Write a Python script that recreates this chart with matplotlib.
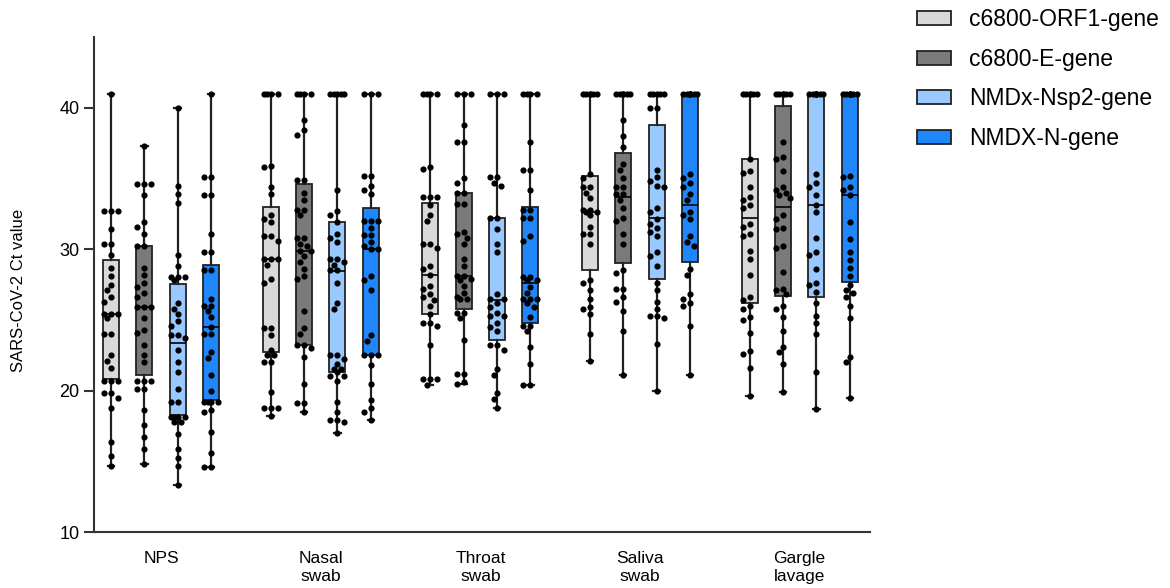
import numpy as np
import matplotlib
matplotlib.use('Agg')
import matplotlib.pyplot as plt
from matplotlib.patches import Patch

plt.rcParams['font.family'] = ['Liberation Sans', 'DejaVu Sans']

# categories
sites = ['NPS', 'Nasal\nswab', 'Throat\nswab', 'Saliva\nswab', 'Gargle\nlavage']
assays = ['c6800-ORF1-gene', 'c6800-E-gene', 'NMDx-Nsp2-gene', 'NMDX-N-gene']
colors = ['#d9d9d9', '#7a7a7a', '#99c9ff', '#1f87fb']

# box statistics (rows = site, cols = assay)
q1 = [[20.8, 21.1, 18.3, 19.3],
      [22.75, 23.2, 21.3, 22.5],
      [25.4, 25.8, 23.6, 24.8],
      [28.5, 29.0, 27.9, 29.1],
      [26.2, 26.7, 26.65, 27.7]]
med = [[25.4, 25.9, 23.4, 24.5],
       [29.3, 29.9, 28.45, 30.0],
       [28.2, 28.1, 26.4, 27.6],
       [32.6, 33.7, 32.2, 33.15],
       [32.2, 33.0, 33.1, 33.8]]
q3 = [[29.2, 30.2, 27.55, 28.9],
      [33.0, 34.6, 31.9, 32.9],
      [33.3, 34.0, 32.2, 33.0],
      [35.15, 36.8, 38.8, 41.0],
      [36.4, 40.1, 41.0, 41.0]]

# individual Ct values (one list per assay)
nps = [
    [41.0, 32.7, 32.7, 32.7, 31.4, 30.4, 30.4, 29.6, 28.7, 28.1, 27.5, 27.1, 26.6, 26.3, 25.4, 25.4, 25.4, 25.1,
     24.0, 24.0, 22.5, 22.1, 21.6, 20.7, 20.7, 20.7, 19.8, 19.8, 19.5, 18.8, 16.4, 15.4, 14.7],
    [37.3, 34.6, 34.6, 34.6, 33.8, 31.9, 31.6, 31.1, 30.2, 30.2, 28.7, 28.2, 27.6, 27.3, 26.9, 26.6, 25.9, 25.9,
     25.9, 25.1, 24.3, 24.1, 23.2, 22.5, 22.0, 20.7, 20.7, 20.7, 20.1, 20.1, 18.6, 17.6, 16.7, 15.9, 14.8],
    [40.0, 34.5, 33.9, 33.3, 29.6, 28.8, 28.0, 28.0, 28.0, 27.8, 26.2, 25.8, 25.4, 24.9, 24.6, 23.9, 23.9, 23.7,
     22.9, 22.0, 21.3, 20.1, 19.2, 19.2, 18.1, 18.1, 18.1, 18.1, 17.8, 17.8, 16.9, 15.9, 15.2, 14.7, 13.3],
    [41.0, 35.1, 35.1, 33.8, 33.8, 31.1, 29.8, 29.8, 28.5, 28.5, 26.5, 26.0, 26.0, 25.6, 25.2, 24.5, 24.0, 24.0,
     22.7, 22.3, 21.1, 20.0, 19.2, 19.2, 19.2, 19.2, 18.6, 18.5, 17.1, 15.6, 14.6, 14.6],
]
nasal = [
    [41.0] * 4 + [35.9, 35.8, 34.4, 33.9, 32.4, 32.1, 31.9, 30.9, 30.9, 30.6, 29.3, 29.3, 29.3, 28.9, 27.9, 27.6,
                  24.4, 24.4, 23.9, 22.9, 22.5, 22.5, 22.0, 22.0, 19.9, 18.8, 18.8, 18.8, 18.2],
    [41.0] * 4 + [39.1, 38.4, 38.1, 34.9, 34.9, 34.0, 33.5, 32.8, 32.8, 32.4, 30.8, 30.8, 30.4, 30.2, 29.9, 29.9,
                  29.5, 29.1, 28.6, 28.1, 27.9, 25.6, 24.4, 24.0, 23.2, 23.2, 23.0, 22.4, 20.5, 19.1, 19.1, 18.5],
    [41.0] * 5 + [34.2, 32.7, 32.4, 31.9, 31.1, 30.8, 30.5, 29.3, 29.3, 29.1, 28.9, 28.5, 28.5, 27.6, 26.2, 25.8,
                  22.5, 22.5, 22.2, 21.9, 21.5, 21.5, 21.3, 21.0, 21.0, 20.7, 19.2, 18.5, 17.9, 17.9, 17.8, 17.0],
    [41.0] * 3 + [35.2, 35.2, 34.5, 34.2, 33.9, 32.0, 32.0, 32.0, 31.5, 31.0, 31.0, 30.5, 30.2, 30.0, 30.0, 28.1,
                  27.8, 27.1, 23.9, 23.5, 22.5, 22.5, 22.5, 21.8, 20.5, 19.3, 18.8, 18.5, 17.9],
]
throat = [
    [41.0] * 4 + [35.8, 35.7, 33.7, 33.7, 33.7, 33.1, 32.4, 32.0, 30.4, 30.4, 30.1, 28.8, 28.6, 28.2, 27.4, 27.2,
                  26.8, 26.6, 26.4, 26.0, 25.4, 24.8, 24.8, 24.6, 23.2, 20.8, 20.8, 20.8, 20.4],
    [41.0] * 3 + [38.8, 37.6, 37.6, 35.0, 34.7, 34.0, 34.0, 33.2, 33.2, 31.2, 31.1, 30.8, 30.4, 29.3, 28.8, 28.1,
                  28.1, 27.9, 27.8, 27.4, 26.9, 26.6, 26.5, 26.5, 25.5, 25.5, 25.1, 23.6, 21.2, 21.2, 20.6, 20.5],
    [41.0] * 3 + [35.1, 35.1, 34.7, 34.5, 32.2, 32.2, 31.4, 30.4, 29.8, 26.8, 26.5, 26.5, 26.2, 25.9, 25.5, 25.3,
                  25.3, 24.8, 24.5, 24.2, 23.2, 23.2, 22.9, 21.5, 21.1, 19.8, 19.4, 18.8],
    [41.0] * 4 + [37.6, 35.6, 35.6, 34.2, 32.8, 32.8, 32.2, 32.2, 30.9, 30.6, 28.0, 28.0, 27.8, 27.8, 27.3, 26.9,
                  26.5, 26.5, 26.5, 26.2, 25.9, 25.2, 24.6, 24.6, 24.2, 23.1, 21.9, 20.4, 20.4],
]
saliva = [
    [41.0] * 6 + [35.3, 35.0, 34.4, 34.4, 34.0, 33.6, 32.8, 32.8, 32.6, 32.6, 32.4, 31.6, 31.1, 31.1, 30.4, 27.8,
                  27.6, 27.1, 26.5, 25.9, 25.8, 25.4, 24.0, 22.1],
    [41.0] * 6 + [39.1, 38.0, 37.2, 36.0, 35.6, 35.0, 34.4, 34.4, 33.9, 33.9, 33.5, 32.9, 32.2, 32.0, 31.1, 30.4,
                  28.5, 28.3, 27.2, 27.2, 26.6, 26.3, 25.6, 24.2, 21.1],
    [41.0] * 5 + [40.0, 40.0, 35.6, 35.1, 34.8, 34.5, 34.4, 32.9, 32.6, 32.1, 31.8, 31.5, 31.2, 30.9, 29.8, 29.5,
                  28.8, 27.6, 27.1, 26.3, 25.8, 25.3, 25.3, 25.1, 23.3, 20.0],
    [41.0] * 8 + [35.3, 35.0, 34.7, 34.4, 33.9, 33.5, 32.6, 32.4, 32.1, 30.9, 30.5, 30.2, 28.6, 28.2, 26.8, 26.5,
                  26.2, 26.0, 24.6, 21.1],
]
gargle = [
    [41.0] * 6 + [36.4, 35.5, 35.4, 34.4, 33.7, 33.5, 33.1, 32.9, 31.8, 31.6, 31.1, 30.9, 29.9, 29.3, 28.2, 26.6,
                  26.4, 26.0, 25.8, 25.2, 25.0, 24.1, 22.8, 22.6, 21.6, 19.6],
    [41.0] * 6 + [37.6, 36.5, 36.4, 35.5, 34.4, 34.2, 34.0, 33.8, 33.6, 32.4, 32.1, 31.5, 31.4, 30.2, 30.1, 28.4,
                  27.2, 27.1, 26.8, 26.0, 25.8, 25.2, 24.2, 23.1, 22.7, 21.9, 19.9],
    [41.0] * 8 + [35.3, 34.7, 34.4, 33.8, 33.1, 32.6, 30.8, 29.8, 29.6, 28.6, 27.6, 27.5, 27.0, 26.2, 25.3, 24.8,
                  24.0, 21.3, 18.7],
    [41.0] * 8 + [35.2, 35.1, 34.4, 34.2, 33.8, 31.9, 30.7, 29.8, 29.2, 28.7, 28.1, 27.5, 27.1, 26.9, 26.6, 26.0,
                  25.1, 22.4, 22.0, 19.5],
]
points = [nps, nasal, throat, saliva, gargle]

fig = plt.figure(figsize=(11.7, 5.88), dpi=100)
ax = fig.add_axes([0.0803, 0.0952, 0.6632, 0.8418])
ax.set_xlim(-0.42, 4.44)
ax.set_ylim(10, 45)

step = 0.209   # distance between boxes inside a site
bw = 0.1
ink = '#222222'


def swarm(vals, xc):
    # spread equal / close values sideways (pixel space), like a scatter dot plot
    (x0, y0), (x1, y1) = ax.transData.transform([(0, 0), (1, 1)])
    sx, sy = x1 - x0, y1 - y0
    ys = np.asarray(vals) * sy
    cands = sorted(np.arange(-7, 7.01, 3.5), key=abs)
    d = 6.0
    px, py = [], []
    xs = np.zeros(len(vals))
    for i in np.argsort(-ys, kind='stable'):
        best, bestd = 0.0, -1
        for c in cands:
            dist = np.min(np.hypot(np.array(px) - c, np.array(py) - ys[i])) if px else np.inf
            if dist >= d:
                best = c
                break
            if dist > bestd:
                best, bestd = c, dist
        xs[i] = best
        px.append(best)
        py.append(ys[i])
    return xc + xs / sx


for j in range(len(assays)):
    pos = [i + (j - 1.5) * step for i in range(len(sites))]
    stats = []
    for i in range(len(sites)):
        v = points[i][j]
        stats.append(dict(q1=q1[i][j], med=med[i][j], q3=q3[i][j],
                          whislo=min(v), whishi=max(v), fliers=[]))
    ax.bxp(stats, positions=pos, widths=bw, patch_artist=True, showfliers=False,
           capwidths=0.04, manage_ticks=False,
           boxprops=dict(facecolor=colors[j], edgecolor=ink, linewidth=1.3),
           medianprops=dict(color='black', linewidth=1.2),
           whiskerprops=dict(color=ink, linewidth=1.6),
           capprops=dict(color=ink, linewidth=1.6), zorder=2)
    for i in range(len(sites)):
        v = points[i][j]
        ax.scatter(swarm(v, pos[i]), v, s=20, color='black', linewidths=0, zorder=3)

ax.set_xticks(range(len(sites)))
ax.set_xticklabels(sites, fontsize=12.5)
ax.tick_params(axis='x', length=0, pad=14)
ax.set_yticks([10, 20, 30, 40])
ax.tick_params(axis='y', labelsize=13, length=7, width=1.5, color='#333333')
ax.set_ylabel('SARS-CoV-2 Ct value', fontsize=12)
ax.yaxis.set_label_coords(-0.087, 0.489)
for s in ['top', 'right']:
    ax.spines[s].set_visible(False)
for s in ['left', 'bottom']:
    ax.spines[s].set_linewidth(1.5)
    ax.spines[s].set_color('#333333')

handles = [Patch(facecolor=c, edgecolor=ink, linewidth=1.3) for c in colors]
fig.legend(handles, assays, loc='upper left', bbox_to_anchor=(0.784, 0.986), frameon=False,
           fontsize=16.5, handlelength=1.45, handleheight=0.55, handletextpad=0.8,
           labelspacing=0.72, borderpad=0, borderaxespad=0)

fig.savefig('out.png', dpi=100)
